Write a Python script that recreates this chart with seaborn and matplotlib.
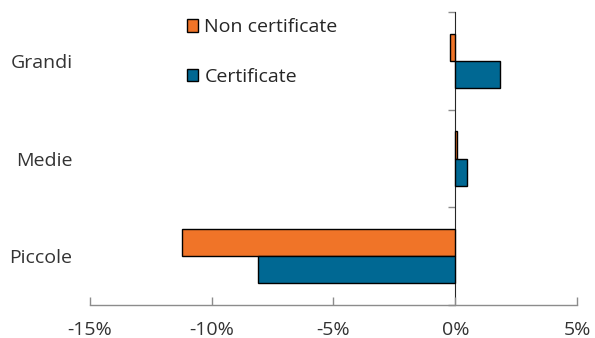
import seaborn as sns
import matplotlib.pyplot as plt
import pandas as pd

categories = ['Grandi', 'Medie', 'Piccole']
series = ['Non certificate', 'Certificate']
non_cert = [-0.23, 0.06, -11.2]
cert = [1.85, 0.48, -8.08]
colors = ['#F07428', '#006893']
xticks = [-15, -10, -5, 0, 5]

df = pd.DataFrame({
    'cat': categories * 2,
    'serie': [series[0]] * 3 + [series[1]] * 3,
    'val': non_cert + cert,
})

sns.set_style('white')
plt.rcParams['font.family'] = ['Open Sans', 'DejaVu Sans']

fig = plt.figure(figsize=(5.95, 3.38), dpi=100)
ax = fig.add_axes([0.151, 0.098, 0.819, 0.866])

sns.barplot(data=df, x='val', y='cat', hue='serie', order=categories,
            hue_order=series, palette=colors, orient='h', width=0.56,
            edgecolor='black', linewidth=1.0, saturation=1, ax=ax)

ax.set_xlim(-15, 5)
ax.set_ylim(2.5, -0.5)
ax.set_xlabel('')
ax.set_ylabel('')
ax.set_xticks(xticks)
ax.set_xticklabels([f'{t}%' for t in xticks])
ax.tick_params(axis='x', bottom=True, direction='in', length=6, width=1,
               color='#8c8c8c', labelsize=14, pad=11.5, labelcolor='#333333')
ax.tick_params(axis='y', length=0, labelsize=14, pad=12.5, labelcolor='#333333')

for s in ['top', 'right', 'left']:
    ax.spines[s].set_visible(False)
ax.spines['bottom'].set_color('#8c8c8c')
ax.spines['bottom'].set_linewidth(1)

# vertical axis at 0
sec = ax.secondary_yaxis(0.75)
sec.set_yticks([-0.5, 0.5, 1.5, 2.5])
sec.set_yticklabels([])
sec.tick_params(left=True, right=False, direction='out', length=5, width=1,
                color='#8c8c8c')
sec.spines['left'].set_color('#8c8c8c')
sec.spines['left'].set_linewidth(1)
ax.set_zorder(1)

leg = ax.legend(loc='upper left', bbox_to_anchor=(0.183, 1.005), frameon=False,
                fontsize=14, labelspacing=1.6, handlelength=0.6,
                handleheight=0.6, handletextpad=0.3, borderaxespad=0)

fig.savefig('out.png', dpi=100)
